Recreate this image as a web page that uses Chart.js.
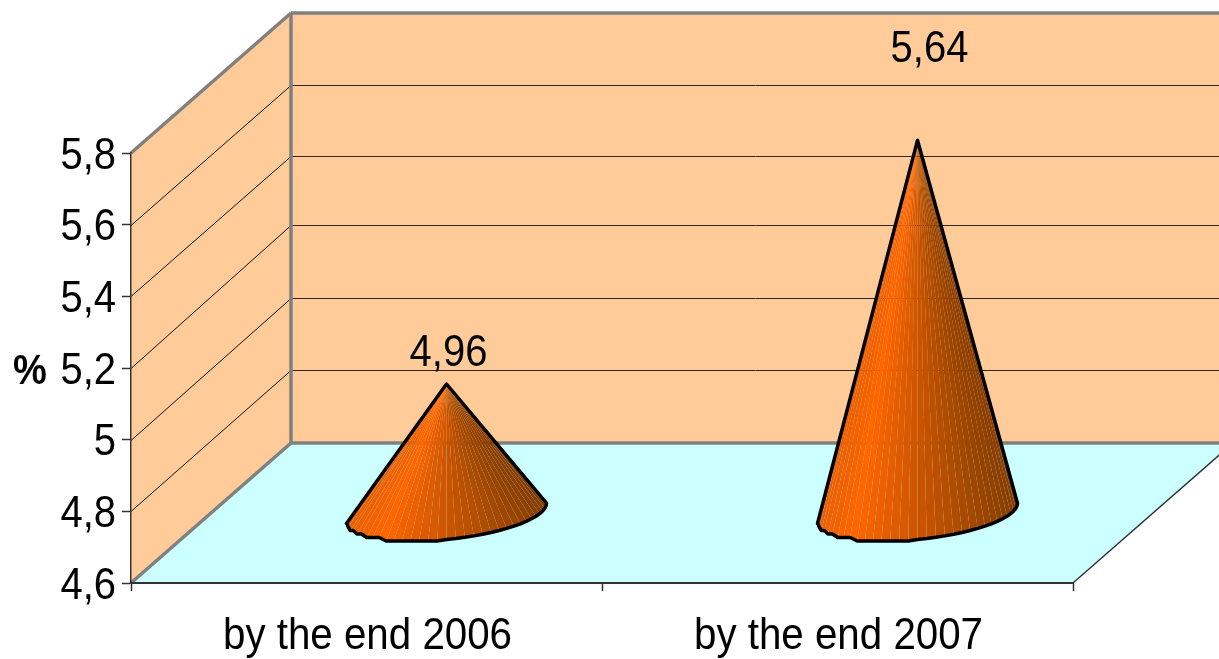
<!DOCTYPE html>
<html>
<head>
<meta charset="utf-8">
<script src="https://cdn.jsdelivr.net/npm/chart.js@4"></script>
<style>
  html, body { margin: 0; padding: 0; background: #fff; }
  canvas { display: block; }
</style>
</head>
<body>
<canvas id="chart" width="1219" height="659"></canvas>
<script>
const categories = ['by the end 2006', 'by the end 2007'];
const shares = [4.96, 5.64];
const axisMin = 4.6;
const axisMax = 5.8;
const axisStep = 0.2;
const unitLabel = '%';

const FONT = '"Liberation Sans", Arial, sans-serif';
const TEXT_STRETCH = 1.1;     // labels are set slightly taller than wide
const DEPTH_X = 160;          // oblique projection of the box depth
const DEPTH_Y = -140;
const FACETS = 34;            // flat shaded slices on the visible cone surface
const LABEL_SHIFT = [[2, -18.5], [12, -78.5]];  // data label baseline offset from each cone tip
const BACK_NUDGE = { '5.2': -3, '5': -2, '4.8': -1 };  // rounding of the lower lines on the back wall

const comma = v => String(+(+v).toFixed(2)).replace('.', ',');

// Shade stops across the cone's width, left to right
const SHADES = [[0, [232, 94, 0]], [0.18, [255, 102, 0]], [0.5, [204, 85, 0]], [0.8, [160, 71, 0]], [1, [134, 60, 0]]];
function shadeAt(f) {
  for (let i = 1; i < SHADES.length; i++) {
    if (f <= SHADES[i][0]) {
      const [a, ca] = SHADES[i - 1], [b, cb] = SHADES[i];
      const k = (f - a) / (b - a);
      return 'rgb(' + ca.map((c, j) => Math.round(c + (cb[j] - c) * k)).join(',') + ')';
    }
  }
  return 'rgb(134,60,0)';
}

function line(ctx, x1, y1, x2, y2) {
  ctx.beginPath();
  ctx.moveTo(x1, y1);
  ctx.lineTo(x2, y2);
  ctx.stroke();
}

function poly(ctx, pts, fill) {
  ctx.beginPath();
  pts.forEach((p, i) => i ? ctx.lineTo(p[0], p[1]) : ctx.moveTo(p[0], p[1]));
  ctx.closePath();
  ctx.fillStyle = fill;
  ctx.fill();
}

function tallText(ctx, str, x, baseline, align, font) {
  ctx.save();
  ctx.translate(x, baseline);
  ctx.scale(1, TEXT_STRETCH);
  ctx.fillStyle = '#000';
  ctx.font = font;
  ctx.textAlign = align;
  ctx.textBaseline = 'alphabetic';
  ctx.fillText(str, 0, 0);
  ctx.restore();
}

// Draws the side wall, back wall, floor and their gridlines behind the axes
const box3d = {
  id: 'box3d',
  beforeDraw(chart) {
    const { ctx, chartArea: a, scales: { y } } = chart;
    const bx = a.left + DEPTH_X, bt = a.top + DEPTH_Y, bb = a.bottom + DEPTH_Y, br = a.right + DEPTH_X;
    ctx.save();
    poly(ctx, [[a.left, a.top], [bx, bt], [bx, bb], [a.left, a.bottom]], '#FFCC99');
    poly(ctx, [[bx, bt], [br, bt], [br, bb], [bx, bb]], '#FFCC99');
    poly(ctx, [[a.left, a.bottom], [bx, bb], [br, bb], [a.right, a.bottom]], '#CCFFFF');

    y.ticks.forEach(t => {
      if (t.value <= axisMin || t.value >= axisMax) return;
      const py = Math.round(y.getPixelForValue(t.value)) + 0.5;
      const backY = Math.round(py + DEPTH_Y + (BACK_NUDGE[String(+t.value.toFixed(1))] || 0)) - 0.5;
      ctx.strokeStyle = '#111';
      ctx.lineWidth = 1;
      line(ctx, a.left, py, bx, backY);
      ctx.strokeStyle = '#33261c';
      ctx.lineWidth = 1;
      line(ctx, bx, backY, br, backY);
    });

    ctx.strokeStyle = '#808080';
    ctx.lineWidth = 3.5;
    ctx.lineJoin = 'round';
    line(ctx, a.left, a.top, bx, bt);
    line(ctx, bx, bt, br, bt);
    line(ctx, bx, bt, bx, bb);
    line(ctx, bx, bb, br, bb);
    line(ctx, a.left, a.bottom, bx, bb);

    ctx.strokeStyle = '#333';
    ctx.lineWidth = 1.5;
    line(ctx, a.right, a.bottom, br, bb);
    ctx.restore();
  },
  // Cones stand mid-depth in the box, on the footprint of each bar element
  afterDatasetsDraw(chart) {
    const { ctx } = chart;
    chart.getDatasetMeta(0).data.forEach((bar, idx) => {
      const cx = bar.x + DEPTH_X / 2;
      const tipY = bar.y + DEPTH_Y / 2;
      const cy = bar.base + DEPTH_Y / 2;
      const R = bar.width / 2;
      // Base circle under the oblique projection: v runs along the depth axis
      const vy = -28.5 * R / 100;
      const vx = vy * DEPTH_X / DEPTH_Y;
      const ux = Math.sqrt(R * R - vx * vx);
      const start = -Math.PI + Math.atan(vx / ux);
      const lowest = cy - vy;
      const ring = [];
      for (let i = 0; i <= FACETS; i++) {
        const t = start + Math.PI * i / FACETS;
        const px = cx + Math.cos(t) * ux + Math.sin(t) * vx;
        const py = cy + Math.sin(t) * vy;
        // The near rim is stepped on its left half and runs smooth on the right
        const rimY = px < cx ? lowest - Math.round((lowest - py) / 3.5) * 3.5 : py;
        ring.push([px, rimY]);
      }
      ctx.save();
      for (let i = 0; i < FACETS; i++) {
        const mid = (ring[i][0] + ring[i + 1][0]) / 2;
        poly(ctx, [[cx, tipY], ring[i], ring[i + 1]], shadeAt((mid - cx + R) / (2 * R)));
      }
      ctx.beginPath();
      ctx.moveTo(cx, tipY);
      ring.forEach(p => ctx.lineTo(p[0], p[1]));
      ctx.closePath();
      ctx.strokeStyle = '#000';
      ctx.lineWidth = 3.5;
      ctx.lineJoin = 'round';
      ctx.stroke();
      ctx.restore();

      const [dx, dy] = LABEL_SHIFT[idx];
      tallText(ctx, comma(shares[idx]), cx + dx, tipY + dy, 'center', '40px ' + FONT);
    });
  },
  // Axis labels, placed from the scales' own ticks
  afterDraw(chart) {
    const { ctx, scales: { x, y } } = chart;
    y.ticks.forEach((t, i) => {
      tallText(ctx, t.label, 116, y.getPixelForTick(i) + 15.5, 'right', '40px ' + FONT);
    });
    x.ticks.forEach((t, i) => {
      tallText(ctx, t.label, x.getPixelForTick(i) + 1, 648.5, 'center', '40.3px ' + FONT);
    });
    tallText(ctx, unitLabel, 30, y.getPixelForValue(5.2) + 15.5, 'center', 'bold 38px ' + FONT);
  }
};

new Chart(document.getElementById('chart'), {
  type: 'bar',
  data: {
    labels: categories,
    datasets: [{
      data: shares,
      base: axisMin,
      backgroundColor: 'rgba(0,0,0,0)',
      borderWidth: 0,
      barPercentage: 1,
      categoryPercentage: 200 / 471
    }]
  },
  plugins: [box3d],
  options: {
    responsive: false,
    animation: false,
    layout: { padding: { top: 153, right: 146, left: 0, bottom: 0 } },
    plugins: { legend: { display: false }, title: { display: false }, tooltip: { enabled: false } },
    scales: {
      x: {
        afterFit(s) { s.height = 76; },
        grid: { drawOnChartArea: false, drawTicks: true, tickLength: 8, color: '#333', tickWidth: 1.5 },
        border: { display: true, color: '#333', width: 2 },
        ticks: { display: false, maxRotation: 0 }
      },
      y: {
        min: axisMin,
        max: axisMax,
        afterFit(s) { s.width = 131; },
        grid: { drawOnChartArea: false, drawTicks: true, tickLength: 9, color: '#333', tickWidth: 1.5 },
        border: { display: true, color: '#333', width: 1.5 },
        ticks: { display: false, stepSize: axisStep, callback: v => comma(v) }
      }
    }
  }
});
</script>
</body>
</html>
